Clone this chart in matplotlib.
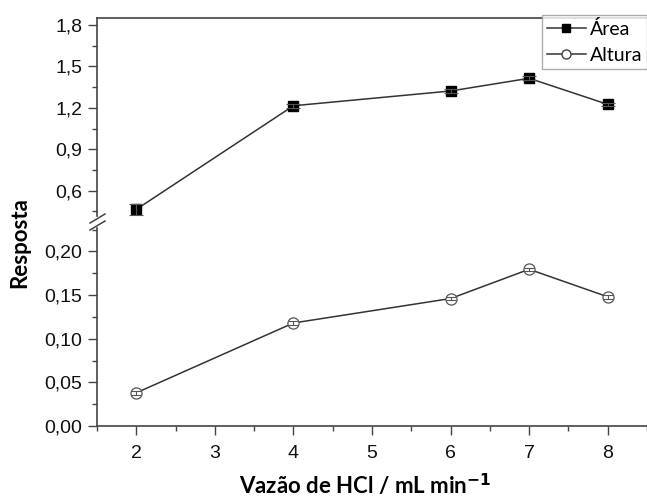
import matplotlib
matplotlib.use('Agg')
from matplotlib import pyplot as plt
from matplotlib.lines import Line2D
from matplotlib.ticker import MultipleLocator, FuncFormatter

# vazão de HCl (mL/min)
vazao = [2, 4, 6, 7, 8]
area = [0.464, 1.215, 1.322, 1.414, 1.225]
area_err = [0.04, 0.015, 0.015, 0.015, 0.012]
altura = [0.038, 0.118, 0.146, 0.1795, 0.148]
altura_err = [0.002, 0.002, 0.002, 0.002, 0.002]

plt.rcParams['font.family'] = ['Liberation Sans', 'DejaVu Sans']
plt.rcParams['xtick.labelsize'] = 14
plt.rcParams['ytick.labelsize'] = 14

W, H = 647, 501
fig = plt.figure(figsize=(W / 100, H / 100), dpi=100)

left, right = 97 / W, 1.0
ax_top = fig.add_axes([left, 1 - 216 / H, right - left, (216 - 18) / H])
ax_bot = fig.add_axes([left, 1 - 426 / H, right - left, (426 - 228) / H], sharex=ax_top)

line_c = '#333333'
spine_c = '#444444'
err_c = '#555555'


def comma(v, nd):
    return ('{:.%df}' % nd).format(v).replace('.', ',')


ax_top.plot(vazao, area, color=line_c, lw=1.1, marker='s', ms=7.5, mfc='black', mec='black', zorder=2)
ax_top.errorbar(vazao, area, yerr=area_err, fmt='none', ecolor=err_c, elinewidth=0.8,
                capsize=5, capthick=0.8, zorder=3)
ax_bot.plot(vazao, altura, color=line_c, lw=1.1, marker='o', ms=8, mfc='white', mec='#555555',
            mew=0.9, zorder=2)
ax_bot.errorbar(vazao, altura, yerr=altura_err, fmt='none', ecolor=err_c, elinewidth=0.8,
                capsize=3.5, capthick=0.8, zorder=3)

ax_top.set_xlim(1.5, 8.5)
ax_top.set_ylim(0.416, 1.851)
ax_bot.set_ylim(0, 0.2268)

ax_top.yaxis.set_major_locator(MultipleLocator(0.3))
ax_top.yaxis.set_minor_locator(MultipleLocator(0.15))
ax_top.yaxis.set_major_formatter(FuncFormatter(lambda v, p: comma(v, 1)))
ax_bot.yaxis.set_major_locator(MultipleLocator(0.05))
ax_bot.yaxis.set_minor_locator(MultipleLocator(0.025))
ax_bot.yaxis.set_major_formatter(FuncFormatter(lambda v, p: comma(v, 2)))
ax_bot.xaxis.set_major_locator(MultipleLocator(1))
ax_bot.xaxis.set_minor_locator(MultipleLocator(0.5))

for ax in (ax_top, ax_bot):
    ax.patch.set_alpha(0)
    ax.spines['right'].set_visible(False)
    for s in ax.spines.values():
        s.set_color(spine_c)
        s.set_linewidth(1.2)
    ax.tick_params(which='major', direction='out', length=6.5, width=1, color=spine_c)
    ax.tick_params(which='minor', direction='out', length=3.5, width=1, color=spine_c)
    ax.tick_params(labelcolor='#111111', pad=4)

ax_top.spines['bottom'].set_visible(False)
ax_top.tick_params(axis='x', which='both', bottom=False, labelbottom=False)
ax_bot.spines['top'].set_visible(False)
ax_bot.tick_params(axis='x', pad=7)

# break marks on the left spine
for dy in (0, 7):
    fig.add_artist(Line2D([90 / W, 105 / W], [1 - (223 + dy) / H, 1 - (214 + dy) / H],
                          color=spine_c, lw=1.1))

label_font = {'family': ['Lato', 'DejaVu Sans'], 'size': 16, 'weight': 'bold'}
fig.text(20 / W, 1 - 243 / H, 'Resposta', rotation=90, ha='center', va='center', **label_font)
fig.text(365 / W, 1 - 485 / H, 'Vazão de HCl / mL min$^{\\mathbf{-1}}$', ha='center',
         va='center', **label_font)

handles = [Line2D([], [], color=line_c, lw=1.1, marker='s', ms=6, mfc='black', mec='black'),
           Line2D([], [], color=line_c, lw=1.1, marker='o', ms=6.5, mfc='white', mec='#444444')]
leg = ax_top.legend(handles, ['Área', 'Altura'], loc='upper left', bbox_to_anchor=(0.809, 1.015),
                    borderaxespad=0, fancybox=False, frameon=True, handlelength=2.0,
                    handletextpad=0.2, labelspacing=0.45, borderpad=0.25,
                    prop={'family': ['Lato', 'DejaVu Sans'], 'size': 14})
leg.get_frame().set_edgecolor('#999999')
leg.get_frame().set_linewidth(1)

fig.savefig('out.png', dpi=100)
